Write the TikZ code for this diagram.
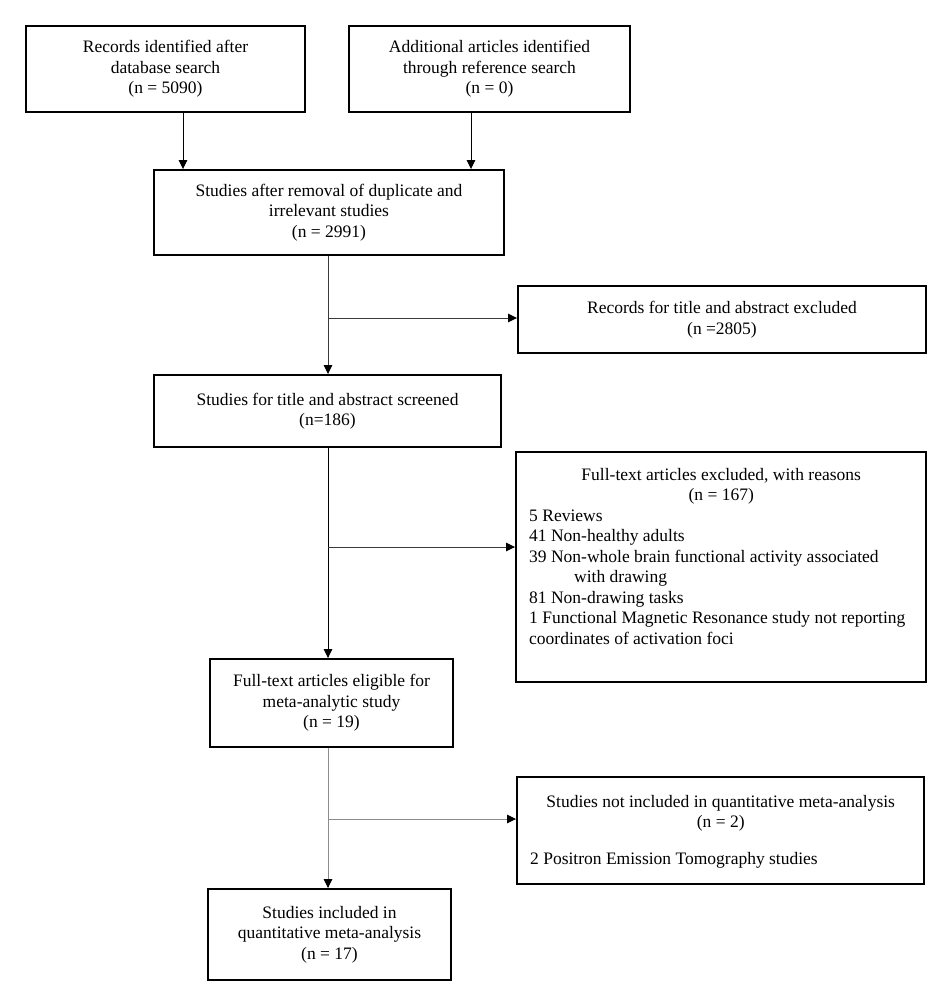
\documentclass[tikz,border=0pt]{standalone}
\usepackage{fontspec}
\setmainfont{Liberation Serif}
\usetikzlibrary{arrows.meta}
\newcommand\boxfont{\fontsize{17.5}{20.5}\selectfont}
\definecolor{lgray}{HTML}{8C8C8C}
\definecolor{dgray}{HTML}{3A3A3A}
\begin{document}
\begin{tikzpicture}[x=1pt,y=-1pt,
  box/.style={draw, line width=1.9pt, inner sep=0pt, align=center, font=\boxfont},
  boxtext/.style={anchor=base west, inner sep=0pt, font=\boxfont},
  arr/.style={line width=1pt, -{Triangle[length=9pt,width=8.5pt,color=black]}}]
\fill[white] (0,0) rectangle (951,1006);
\useasboundingbox (0,0) rectangle (951,1006);

\node[box, minimum width=279pt, minimum height=86pt] (b1) at (165.5,69)
  {Records identified after\\database search\\(n = 5090)};
\node[box, minimum width=281pt, minimum height=86pt] (b2) at (489.5,69)
  {Additional articles identified\\through reference search\\(n = 0)};
\node[box, minimum width=350pt, minimum height=85pt] (b3) at (329,212.5)
  {Studies after removal of duplicate and\\irrelevant studies\\(n = 2991)};
\node[box, minimum width=408pt, minimum height=67pt] (b4) at (722,319.5)
  {Records for title and abstract excluded\\(n =2805)};
\node[box, minimum width=347pt, minimum height=72pt] (b5) at (327.5,411)
  {Studies for title and abstract screened\\(n=186)};
\node[box, minimum width=410pt, minimum height=230pt] (b6) at (721,567) {};
\node[boxtext] (t6) at (529,480) {\parbox[t]{384pt}{\centering
  Full-text articles excluded, with reasons\\(n = 167)\par
  \raggedright
  \mbox{5 Reviews}\\
  \mbox{41 Non-healthy adults}\\
  \mbox{39 Non-whole brain functional activity associated}\\
  \mbox{\hspace*{45pt}with drawing}\\
  \mbox{81 Non-drawing tasks}\\
  \mbox{1 Functional Magnetic Resonance study not reporting}\\
  \mbox{coordinates of activation foci}}};
\node[box, minimum width=243pt, minimum height=88pt] (b7) at (331.5,703)
  {Full-text articles eligible for\\meta-analytic study\\(n = 19)};
\node[box, minimum width=407pt, minimum height=107pt] (b8) at (720.5,830.5) {};
\node[boxtext] (t8) at (530,807) {\parbox[t]{381pt}{\centering
  Studies not included in quantitative meta-analysis\\(n = 2)\par
  \vspace{16pt}\raggedright
  \mbox{2 Positron Emission Tomography studies}}};
\node[box, minimum width=243pt, minimum height=91pt] (b9) at (329.5,934.5)
  {Studies included in\\quantitative meta-analysis\\(n = 17)};

\coordinate (x1) at (183,0);
\coordinate (x2) at (471,0);
\coordinate (mx) at (328,0);
\coordinate (j1) at (328,318);
\coordinate (j2) at (328,547);
\coordinate (j3) at (328,819);

\draw[arr] (b1.south -| x1) -- (b3.north -| x1);
\draw[arr] (b2.south -| x2) -- (b3.north -| x2);
\draw[arr, draw=dgray] (b3.south -| mx) -- (b5.north -| mx);
\draw[arr, draw=dgray] (j1) -- (j1 -| b4.west);
\draw[arr] (b5.south -| mx) -- (b7.north -| mx);
\draw[arr, draw=dgray] (j2) -- (j2 -| b6.west);
\draw[arr, draw=lgray] (b7.south -| mx) -- (b9.north -| mx);
\draw[arr, draw=lgray] (j3) -- (j3 -| b8.west);
\end{tikzpicture}
\end{document}
